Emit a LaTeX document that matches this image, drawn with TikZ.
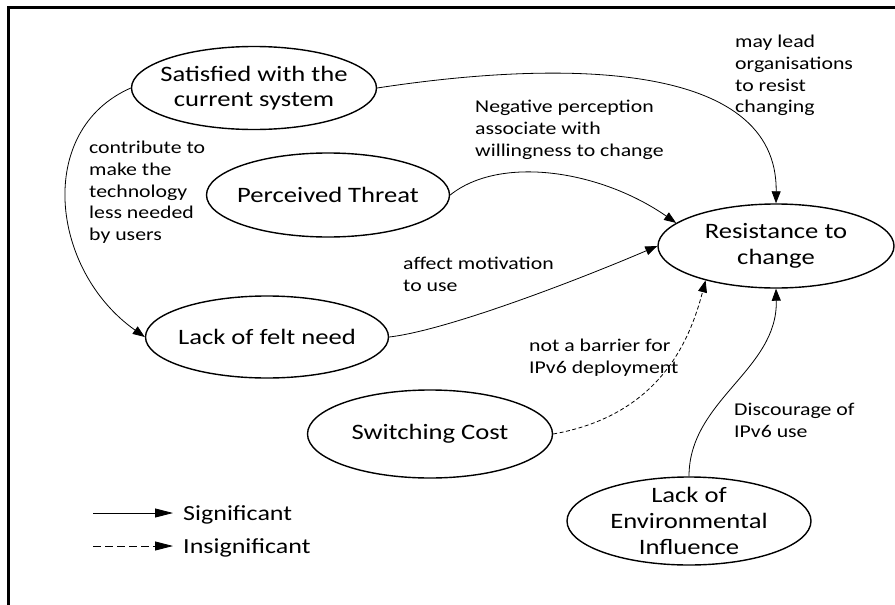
\documentclass[tikz,border=0pt]{standalone}
\usepackage{fontspec}
\setmainfont{Carlito}[FakeStretch=1.21]
\usetikzlibrary{arrows.meta,shapes.geometric}
\begin{document}
\begin{tikzpicture}[x=1pt,y=-1pt,
  concept/.style={ellipse,draw,line width=1.4pt,inner sep=0pt},
  ctext/.style={inner sep=0pt,align=center,font=\fontsize{22}{25.5}\selectfont},
  lbl/.style={anchor=north west,inner sep=0pt,align=left,font=\fontsize{18}{21.7}\selectfont},
  legtext/.style={anchor=base west,inner sep=0pt,font=\fontsize{21.5}{25}\selectfont},
  link/.style={line width=0.8pt,-{Triangle[length=12pt,width=9pt]}},
  weak/.style={link,dash pattern=on 4pt off 2.5pt},
  leglink/.style={line width=0.8pt,-{Triangle[length=18pt,width=9pt]}},
  legweak/.style={leglink,dash pattern=on 8pt off 4pt}]
\useasboundingbox (0,0) rectangle (895,605);
\draw[line width=2.6pt] (8.7,605) -- (8.7,7.3) -- (895,7.3);

% concepts
\node[concept,minimum width=245,minimum height=83] (sat) at (254,88) {};
\node[ctext] (sat-t) at (sat) {Satisfied with the\\current system};
\node[concept,minimum width=243,minimum height=84] (per) at (328,195) {};
\node[ctext] (per-t) at (per) {Perceived Threat};
\node[concept,minimum width=236,minimum height=84] (res) at (776,246) {};
\node[ctext] (res-t) at (res) {Resistance to\\change};
\node[concept,minimum width=243,minimum height=82] (need) at (267,337) {};
\node[ctext] (need-t) at (need) {Lack of felt need};
\node[concept,minimum width=245,minimum height=88] (sw) at (430,434) {};
\node[ctext] (sw-t) at (sw) {Switching Cost};
\node[concept,minimum width=244,minimum height=88] (env) at (689,521) {};
\node[ctext,font=\fontsize{22}{26}\selectfont] (env-t) at (env) {Lack of\\Environmental\\Influence};

% connectors
\draw[link] (sat.east) .. controls (560,60) and (778,60) .. (res.north);
\draw[link] (per.east) .. controls (500,155) and (600,170) .. (res.167);
\draw[link] (need.east) .. controls (450,330) and (590,275) .. (res.west);
\draw[weak] (sw.east) .. controls (660,415) and (690,340) .. (res.206);
\draw[link] (env.north) .. controls (689,400) and (778,370) .. (res.south);
\draw[link] (sat.west) .. controls (35,130) and (50,270) .. (need.west);

% labels
\node[lbl] (l1) at (735,35) {may lead\\organisations\\to resist\\changing};
\node[lbl] (l2) at (475,100) {Negative perception\\associate with\\willingness to change};
\node[lbl] (l3) at (89,141) {contribute to\\make the\\technology\\less needed\\by users};
\node[lbl] (l4) at (403,257) {affect motivation\\to use};
\node[lbl] (l5) at (529,339) {not a barrier for\\IPv6 deployment};
\node[lbl] (l6) at (734,403) {Discourage of\\IPv6 use};

% legend
\coordinate (s1) at (93,513);
\coordinate (s2) at (173,513);
\coordinate (i1) at (93,546);
\coordinate (i2) at (173,546);
\draw[leglink] (s1) -- (s2);
\draw[legweak] (i1) -- (i2);
\node[legtext] (sig) at (183,520) {Significant};
\node[legtext] (insig) at (183,553) {Insignificant};
\end{tikzpicture}
\end{document}
